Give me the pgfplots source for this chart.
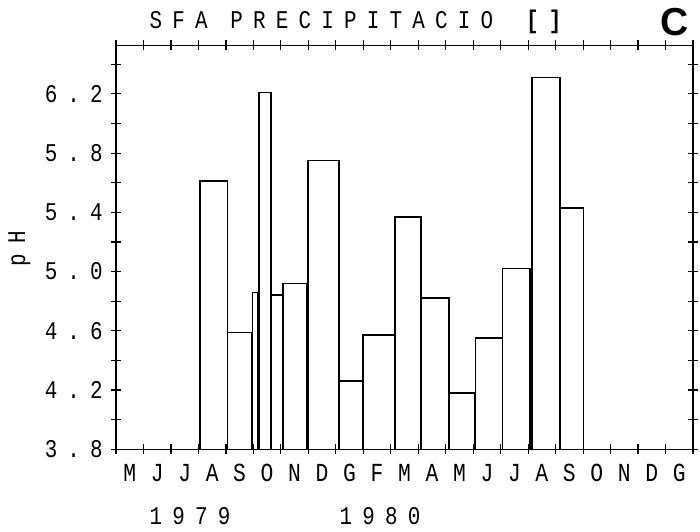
\documentclass[border=0pt]{standalone}
\usepackage{fontspec}
\usepackage{pgfplots}
\pgfplotsset{compat=1.18}

% plotter-style lettering: tall, narrow, widely spaced
\newfontfamily\plotfont[FakeStretch=0.82]{Liberation Mono}
\newfontfamily\plotfontsp[FakeStretch=0.82, LetterSpace=40]{Liberation Mono}
\newfontfamily\panelfont{Liberation Sans}
\newcommand{\pf}{\plotfont\fontsize{26bp}{28bp}\selectfont}
\newcommand{\pfs}{\plotfontsp\fontsize{25.5bp}{28bp}\selectfont}

% one sampling interval: start month, end month, mean pH
\newcommand{\phbar}[3]{\addplot[barline] coordinates {(#1,3.8) (#1,#3) (#2,#3) (#2,3.8)};}

\begin{document}
\begin{tikzpicture}
\useasboundingbox (-116bp,-82.7bp) rectangle (584bp,449.3bp);
\begin{axis}[
  at={(0,0)}, anchor=south west,
  scale only axis, width=577bp, height=404bp,
  xmin=0, xmax=21, ymin=3.8, ymax=6.528,
  clip=false,
  axis line style={line width=1.3pt},
  tick align=center,
  major tick length=10bp, minor tick length=10bp,
  tick style={black, line width=1.2pt},
  xtick={0,...,21},
  x tick label as interval,
  xticklabels={M,J,J,A,S,O,N,D,G,F,M,A,M,J,J,A,S,O,N,D,G},
  xticklabel style={font=\pf, inner sep=0pt, anchor=north, yshift=-10bp},
  ytick={3.8,4.2,4.6,5.0,5.4,5.8,6.2},
  yticklabels={3.8,4.2,4.6,5.0,5.4,5.8,6.2},
  minor ytick={4.0,4.4,4.8,5.2,5.6,6.0,6.4},
  yticklabel style={font=\pfs, inner sep=0pt, anchor=east, xshift=-8bp},
  barline/.style={black, line width=1.6pt, line join=miter},
]
\phbar{3.05}{4.06}{5.61}
\phbar{4.06}{4.93}{4.59}
\phbar{4.97}{5.15}{4.86}
\phbar{5.20}{5.64}{6.21}
\phbar{5.64}{6.07}{4.84}
\phbar{6.07}{6.96}{4.92}
\phbar{6.98}{8.12}{5.75}
\phbar{8.12}{8.98}{4.26}
\phbar{9.00}{10.14}{4.57}
\phbar{10.15}{11.10}{5.37}
\phbar{11.10}{12.12}{4.82}
\phbar{12.12}{13.06}{4.18}
\phbar{13.08}{14.06}{4.55}
\phbar{14.07}{15.06}{5.02}
\phbar{15.13}{16.15}{6.31}
\phbar{16.15}{17.02}{5.43}

\node[font=\pfs, inner sep=0pt, anchor=base west] at (axis cs:1.22,6.642) {SFA PRECIPITACIO \textbf{[]}};
\node[font=\panelfont\bfseries\fontsize{39bp}{40bp}\selectfont, inner sep=0pt, anchor=base] at (axis cs:20.34,6.592) {C};
\node[font=\pfs, inner sep=0pt, anchor=base, rotate=90] at (axis cs:-3.31,5.153) {pH};
\node[font=\pfs, inner sep=0pt, anchor=base west] at (axis cs:1.22,3.289) {1979};
\node[font=\pfs, inner sep=0pt, anchor=base west] at (axis cs:8.13,3.289) {1980};
\end{axis}
\end{tikzpicture}
\end{document}
